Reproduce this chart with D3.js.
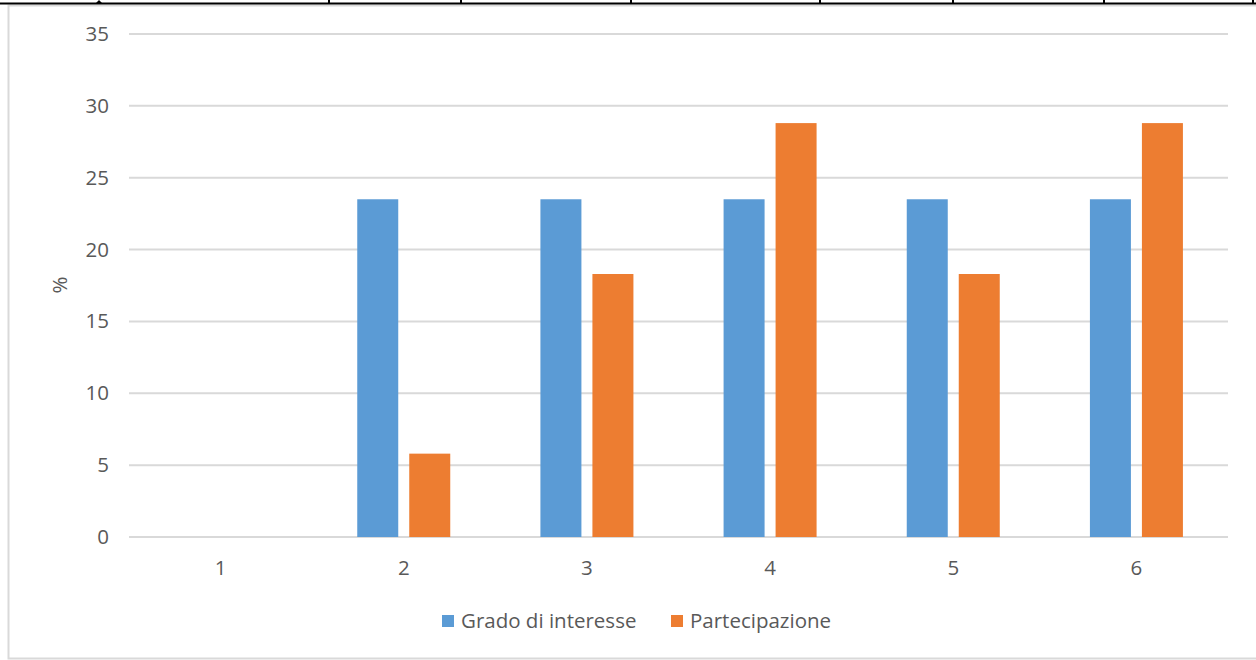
<!DOCTYPE html>
<html>
<head>
<meta charset="utf-8">
<script src="https://cdn.jsdelivr.net/npm/d3@7"></script>
<style>
  body { margin: 0; background: #fff; }
  svg text { font-family: "Open Sans", "Liberation Sans", sans-serif; }
</style>
</head>
<body>
<div id="chart"></div>
<script>
// dati
var categories = ['1', '2', '3', '4', '5', '6'];
var seriesNames = ['Grado di interesse', 'Partecipazione'];
var interesse = [0, 23.5, 23.5, 23.5, 23.5, 23.5];
var partecipazione = [0, 5.8, 18.3, 28.8, 18.3, 28.8];
var yTicks = [0, 5, 10, 15, 20, 25, 30, 35];
var colors = ['#5B9BD5', '#ED7D31'];
// segni della tabella sopra il grafico
var tableCols = [329, 461, 631, 820, 953, 1104, 1253];

var W = 1256, H = 660;
var margin = {top: 34, left: 129, right: 28, bottom: 123};

var svg = d3.select('#chart').append('svg')
    .attr('width', W)
    .attr('height', H);

// cornice del grafico
svg.append('rect')
    .attr('x', 8.5).attr('y', 5.5)
    .attr('width', W).attr('height', 653)
    .attr('fill', '#fff')
    .attr('stroke', '#d9d9d9')
    .attr('stroke-width', 2);

// linea nera della tabella
svg.append('line')
    .attr('x1', 0).attr('x2', W)
    .attr('y1', 3.5).attr('y2', 3.5)
    .attr('stroke', '#000').attr('stroke-width', 2);
svg.selectAll('.tcol').data(tableCols).enter().append('line')
    .attr('class', 'tcol')
    .attr('x1', function (d) { return d; }).attr('x2', function (d) { return d; })
    .attr('y1', 0).attr('y2', 4)
    .attr('stroke', '#000').attr('stroke-width', 2);
svg.append('path')
    .attr('d', 'M96,3 L99,0 L102,3 Z')
    .attr('fill', '#000');

var innerW = W - margin.left - margin.right;
var innerH = H - margin.top - margin.bottom;

var g = svg.append('g')
    .attr('transform', 'translate(' + margin.left + ',' + margin.top + ')');

var y = d3.scaleLinear().domain([0, 35]).range([innerH, 0]);
var x0 = d3.scaleBand().domain(categories).range([0, innerW]).padding(0);
var bw = x0.bandwidth();
var x1 = d3.scaleBand().domain(seriesNames)
    .range([bw / 2 - 46.5, bw / 2 + 46.5])
    .paddingInner(11 / 52).paddingOuter(0);

// griglia
g.selectAll('.grid').data(yTicks).enter().append('line')
    .attr('class', 'grid')
    .attr('x1', 0).attr('x2', innerW)
    .attr('y1', function (d) { return y(d); })
    .attr('y2', function (d) { return y(d); })
    .attr('stroke', '#d9d9d9')
    .attr('stroke-width', 2);

// asse y
var yAxis = g.append('g')
    .call(d3.axisLeft(y).tickValues(yTicks).tickSize(0).tickPadding(20));
yAxis.select('.domain').remove();
yAxis.selectAll('text')
    .attr('fill', '#595959')
    .style('font-size', '20.5px');

// asse x
var xAxis = g.append('g')
    .attr('transform', 'translate(0,' + innerH + ')')
    .call(d3.axisBottom(x0).tickSize(0).tickPadding(23));
xAxis.select('.domain').remove();
xAxis.selectAll('text')
    .attr('fill', '#595959')
    .style('font-size', '20.5px');

// barre
var rows = categories.map(function (c, i) {
    return {cat: c, vals: [interesse[i], partecipazione[i]]};
});
var grp = g.selectAll('.cat').data(rows).enter().append('g')
    .attr('class', 'cat')
    .attr('transform', function (d) { return 'translate(' + x0(d.cat) + ',0)'; });
grp.selectAll('rect')
    .data(function (d) {
        return d.vals.map(function (v, j) { return {s: seriesNames[j], v: v, j: j}; });
    })
    .enter().append('rect')
    .attr('x', function (d) { return x1(d.s); })
    .attr('y', function (d) { return y(d.v); })
    .attr('width', x1.bandwidth())
    .attr('height', function (d) { return innerH - y(d.v); })
    .attr('fill', function (d) { return colors[d.j]; });

// titolo asse y
svg.append('text')
    .attr('transform', 'translate(67,285) rotate(-90)')
    .attr('text-anchor', 'middle')
    .attr('fill', '#595959')
    .style('font-size', '20.5px')
    .text('%');

// legenda
var legendX = [442, 671];
var leg = svg.selectAll('.leg').data(seriesNames).enter().append('g')
    .attr('class', 'leg')
    .attr('transform', function (d, i) { return 'translate(' + legendX[i] + ',615)'; });
leg.append('rect')
    .attr('width', 12).attr('height', 12)
    .attr('fill', function (d, i) { return colors[i]; });
leg.append('text')
    .attr('x', 19).attr('y', 13)
    .attr('fill', '#595959')
    .style('font-size', '20.5px')
    .text(function (d) { return d; });
</script>
</body>
</html>
